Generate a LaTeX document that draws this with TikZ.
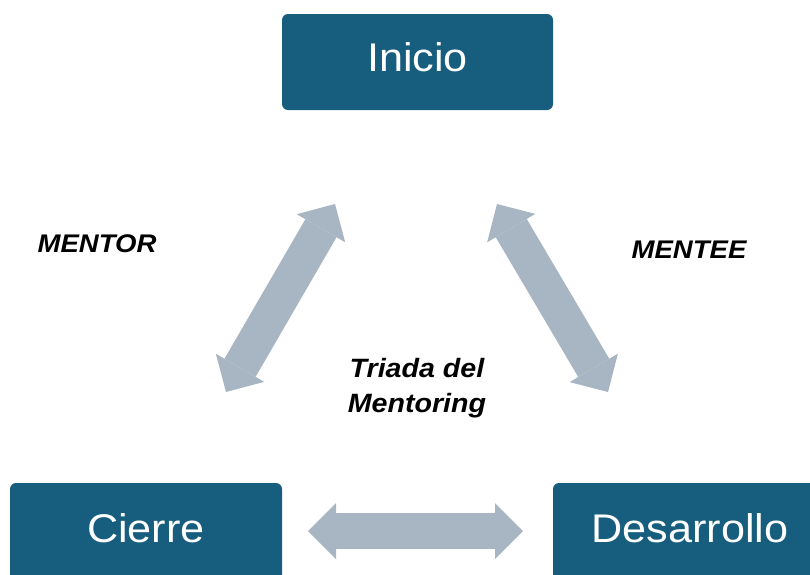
\documentclass[tikz,border=0pt]{standalone}
\usepackage{fontspec}
\setmainfont{Liberation Sans}
\usetikzlibrary{arrows.meta}
\definecolor{boxblue}{HTML}{175D7E}
\definecolor{arrowgray}{HTML}{A8B5C2}
\begin{document}
\begin{tikzpicture}[x=1pt,y=-1pt,
  box/.style={fill=boxblue, rounded corners=6pt, text=white, inner sep=0pt,
    font=\fontsize{40}{48}\selectfont},
  role/.style={font=\fontsize{25.5}{35}\selectfont\bfseries\itshape, inner sep=0pt},
  bigarrow/.style={draw=arrowgray, line width=36pt,
    {Triangle[length=28pt 0 0, width=56pt 0 0, line width=0pt]}-{Triangle[length=28pt 0 0, width=56pt 0 0, line width=0pt]}}]
\useasboundingbox (0,0) rectangle (810,574);
\clip (0,0) rectangle (810,574);
% boxes
\node[box, minimum width=271pt, minimum height=96pt, text height=26pt, text depth=8pt]
  (inicio) at (417.5,62) {\scalebox{1.08}[1]{Inicio}};
\node[box, minimum width=272pt, minimum height=118pt, text height=14pt, text depth=14pt]
  (cierre) at (146,542) {\scalebox{1.08}[1]{Cierre}};
\node[box, minimum width=274pt, minimum height=118pt, text height=14pt, text depth=14pt]
  (desarrollo) at (690,542) {\scalebox{1.08}[1]{Desarrollo}};
% labels
\node[role, anchor=base] (mentor) at (97,252) {\scalebox{1.08}[1]{MENTOR}};
\node[role, anchor=base] (mentee) at (689,258) {\scalebox{1.08}[1]{MENTEE}};
\node[role, anchor=north, align=center, font=\fontsize{26.5}{35}\selectfont\bfseries\itshape] (triada) at (417,358)
  {\scalebox{1.08}[1]{Triada del}\\\scalebox{1.08}[1]{Mentoring}};
% arrows
\coordinate (l1) at (226,392); \coordinate (l2) at (335,204);
\coordinate (r1) at (497,204); \coordinate (r2) at (608,392);
\coordinate (h1) at (308,531); \coordinate (h2) at (523,531);
\draw[bigarrow] (l1) -- (l2);
\draw[bigarrow] (r1) -- (r2);
\draw[bigarrow] (h1) -- (h2);
\end{tikzpicture}
\end{document}
